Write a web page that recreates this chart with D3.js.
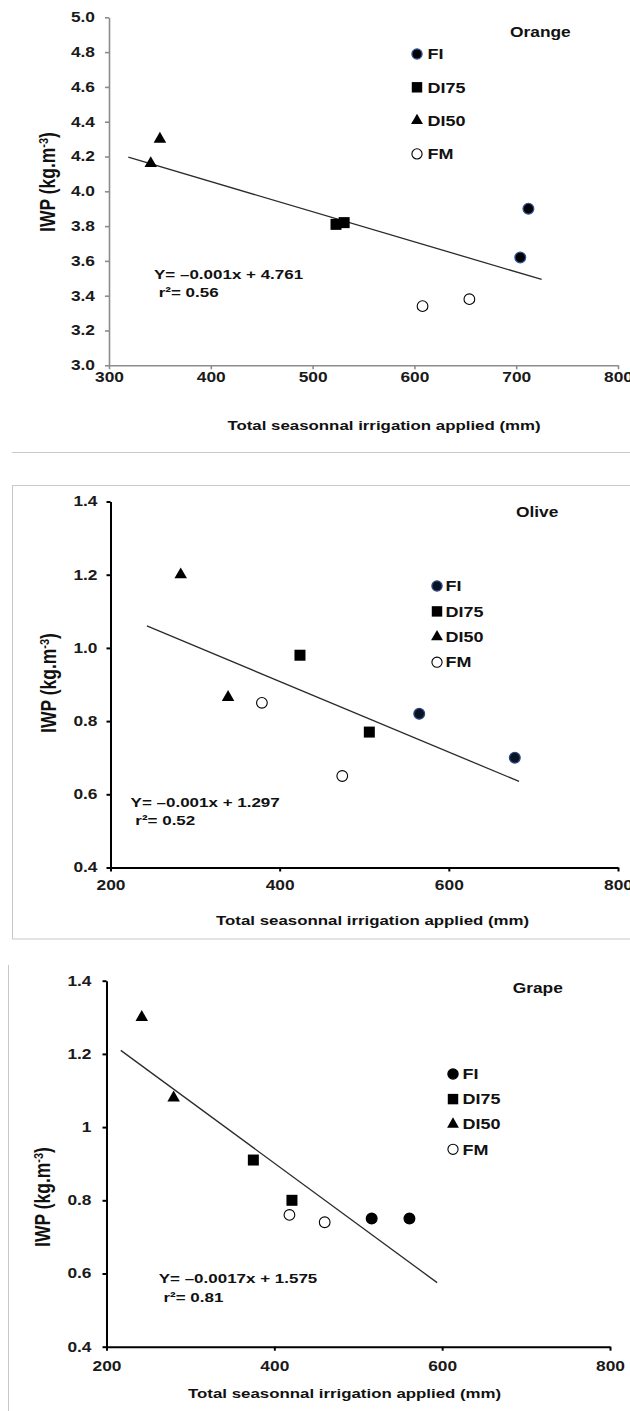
<!DOCTYPE html>
<html>
<head>
<meta charset="utf-8">
<script src="https://cdn.jsdelivr.net/npm/d3@7"></script>
<style>
  html, body { margin: 0; padding: 0; background: #fff; }
  svg { display: block; font-family: "Liberation Sans", Arial, sans-serif; font-weight: bold; }
</style>
</head>
<body>
<svg id="fig" width="630" height="1411"></svg>
<script>
// ---- Data -------------------------------------------------------------
const treatments = ["FI", "DI75", "DI50", "FM"];

// Orange
const orangeTreatment  = ["FI", "FI", "DI75", "DI75", "DI50", "DI50", "FM", "FM"];
const orangeIrrigation = [704, 712, 523, 531, 341, 350, 608, 654];
const orangeIWP        = [3.62, 3.90, 3.81, 3.82, 4.16, 4.30, 3.34, 3.38];
const orangeTrendSpan  = [319, 725];
const orangeXTicks     = [300, 400, 500, 600, 700, 800];
const orangeYTicks     = [3.0, 3.2, 3.4, 3.6, 3.8, 4.0, 4.2, 4.4, 4.6, 4.8, 5.0];
const orangeYLabels    = ["3.0", "3.2", "3.4", "3.6", "3.8", "4.0", "4.2", "4.4", "4.6", "4.8", "5.0"];
const orangeEquation   = ["Y= \u20130.001x + 4.761", " r\u00b2= 0.56"];

// Olive
const oliveTreatment  = ["FI", "FI", "DI75", "DI75", "DI50", "DI50", "FM", "FM"];
const oliveIrrigation = [565, 678, 424, 506, 283, 339, 379, 474];
const oliveIWP        = [0.82, 0.70, 0.98, 0.77, 1.20, 0.865, 0.85, 0.65];
const oliveTrendSpan  = [243, 683];
const oliveXTicks     = [200, 400, 600, 800];
const oliveYTicks     = [0.4, 0.6, 0.8, 1.0, 1.2, 1.4];
const oliveYLabels    = ["0.4", "0.6", "0.8", "1.0", "1.2", "1.4"];
const oliveEquation   = ["Y= \u20130.001x + 1.297", " r\u00b2= 0.52"];

// Grape
const grapeTreatment  = ["FI", "FI", "DI75", "DI75", "DI50", "DI50", "FM", "FM"];
const grapeIrrigation = [516, 561, 375, 421, 242, 280, 418, 460];
const grapeIWP        = [0.75, 0.75, 0.91, 0.80, 1.30, 1.08, 0.76, 0.74];
const grapeTrendSpan  = [217, 594];
const grapeXTicks     = [200, 400, 600, 800];
const grapeYTicks     = [0.4, 0.6, 0.8, 1.0, 1.2, 1.4];
const grapeYLabels    = ["0.4", "0.6", "0.8", "1", "1.2", "1.4"];
const grapeEquation   = ["Y= \u20130.0017x + 1.575", " r\u00b2= 0.81"];

const xTitle = "Total seasonnal irrigation applied (mm)";

// ---- Layout -----------------------------------------------------------
const SX = 1.24; // horizontal stretch of the lettering

const panels = [
  {
    name: "Orange", treat: orangeTreatment, xs: orangeIrrigation, ys: orangeIWP,
    span: orangeTrendSpan, xTicks: orangeXTicks, yTicks: orangeYTicks, yLabels: orangeYLabels,
    eq: orangeEquation,
    xDomain: [300, 800], xRange: [109, 618], yDomain: [3.0, 5.0], yRange: [365.3, 17.3],
    axisColor: "#8c8c8c", axisWidth: 1.6, yPad: 10, xPad: 3,
    fiFill: "#000", fiStroke: "#2c5597",
    legend: { mx: 417, tx: 427.5, y0: 54, dy: 33.3 },
    label: { x: 510, y: 31.7 },
    eqPos: [{ x: 154, y: 279 }, { x: 154, y: 297 }],
    xTitlePos: { x: 384, y: 425 }, yTitlePos: { x: 47, y: 182 }
  },
  {
    name: "Olive", treat: oliveTreatment, xs: oliveIrrigation, ys: oliveIWP,
    span: oliveTrendSpan, xTicks: oliveXTicks, yTicks: oliveYTicks, yLabels: oliveYLabels,
    eq: oliveEquation,
    xDomain: [200, 800], xRange: [110.5, 618], yDomain: [0.4, 1.4], yRange: [867.5, 501.5],
    axisColor: "#000", axisWidth: 2, yPad: 9, xPad: 9,
    fiFill: "#0a1226", fiStroke: "#2a4878",
    legend: { mx: 437, tx: 445.5, y0: 586, dy: 25.4 },
    label: { x: 516, y: 512.3 },
    eqPos: [{ x: 130.6, y: 806.5 }, { x: 130.6, y: 825 }],
    xTitlePos: { x: 372.6, y: 920 }, yTitlePos: { x: 48, y: 683 }
  },
  {
    name: "Grape", treat: grapeTreatment, xs: grapeIrrigation, ys: grapeIWP,
    span: grapeTrendSpan, xTicks: grapeXTicks, yTicks: grapeYTicks, yLabels: grapeYLabels,
    eq: grapeEquation,
    xDomain: [200, 800], xRange: [106.5, 610], yDomain: [0.4, 1.4], yRange: [1346.7, 980.7],
    axisColor: "#000", axisWidth: 2, yPad: 11, xPad: 10,
    fiFill: "#000", fiStroke: "#000",
    legend: { mx: 453, tx: 462.5, y0: 1074, dy: 25.1 },
    label: { x: 512.7, y: 987.7 },
    eqPos: [{ x: 158.7, y: 1283 }, { x: 158.7, y: 1301.7 }],
    xTitlePos: { x: 344.6, y: 1393.3 }, yTitlePos: { x: 42, y: 1197 }
  }
];

const svg = d3.select("#fig");

// Frame lines around the panels
const frame = svg.append("g").attr("fill", "none").attr("stroke", "#c9c9c9").attr("stroke-width", 1);
frame.append("line").attr("x1", 12).attr("x2", 630).attr("y1", 452.5).attr("y2", 452.5);
frame.append("rect").attr("x", 12.5).attr("y", 485.5).attr("width", 640).attr("height", 453.5);
frame.append("line").attr("x1", 8.5).attr("x2", 8.5).attr("y1", 965).attr("y2", 1411);

// Place a text element with horizontal stretch around its anchor point
function stretched(sel) {
  sel.each(function () {
    const t = d3.select(this);
    const x = +t.attr("x") || 0, y = +t.attr("y") || 0;
    t.attr("x", 0).attr("y", 0).attr("transform", `translate(${x},${y}) scale(${SX},1)`);
  });
}

function symbolFor(tr, legend) {
  const k = legend ? 0.95 : 1;
  if (tr === "DI75") return d3.symbol(d3.symbolSquare, 121 * k * k)();
  if (tr === "DI50") return d3.symbol(d3.symbolTriangle, 68 * k * k)();
  return d3.symbol(d3.symbolCircle, 90 * k * k)();
}

function styleMarker(sel, p) {
  sel.attr("fill", d => d === "FM" ? "#fff" : d === "FI" ? p.fiFill : "#000")
     .attr("stroke", d => d === "FI" ? p.fiStroke : "#000")
     .attr("stroke-width", d => d === "FM" ? 1.1 : (d === "FI" ? 1.3 : 0));
}

// Least-squares line through the points
function fit(xs, ys) {
  const mx = d3.mean(xs), my = d3.mean(ys);
  const sxy = d3.sum(xs, (x, i) => (x - mx) * (ys[i] - my));
  const sxx = d3.sum(xs, x => (x - mx) * (x - mx));
  const b = sxy / sxx;
  return { b, a: my - b * mx };
}

panels.forEach(p => {
  const g = svg.append("g");
  const x = d3.scaleLinear().domain(p.xDomain).range(p.xRange);
  const y = d3.scaleLinear().domain(p.yDomain).range(p.yRange);

  // Axes
  const xAxis = g.append("g")
    .attr("transform", `translate(0,${p.yRange[0]})`)
    .call(d3.axisBottom(x).tickValues(p.xTicks).tickFormat(d3.format("d"))
      .tickSize(4).tickSizeOuter(0).tickPadding(p.xPad));
  const yAxis = g.append("g")
    .attr("transform", `translate(${p.xRange[0]},0)`)
    .call(d3.axisLeft(y).tickValues(p.yTicks).tickFormat((d, i) => p.yLabels[i])
      .tickSize(4).tickSizeOuter(0).tickPadding(p.yPad));
  [xAxis, yAxis].forEach(a => {
    a.select(".domain").attr("stroke", p.axisColor).attr("stroke-width", p.axisWidth);
    a.selectAll(".tick line").attr("stroke", p.axisColor).attr("stroke-width", p.axisWidth);
    a.selectAll(".tick text").attr("fill", "#1a1a1a")
      .style("font-family", "'Liberation Sans', Arial, sans-serif")
      .style("font-weight", "bold").style("font-size", "14px");
    a.selectAll(".tick text").call(stretched);
  });

  // Trend line
  const f = fit(p.xs, p.ys);
  g.append("line")
    .attr("x1", x(p.span[0])).attr("y1", y(f.a + f.b * p.span[0]))
    .attr("x2", x(p.span[1])).attr("y2", y(f.a + f.b * p.span[1]))
    .attr("stroke", "#2b2b2b").attr("stroke-width", 1.3);

  // Points
  g.append("g").selectAll("path")
    .data(p.treat)
    .join("path")
    .attr("d", d => symbolFor(d, false))
    .attr("transform", (d, i) => `translate(${x(p.xs[i])},${y(p.ys[i])})`)
    .call(styleMarker, p);

  // Legend
  const lg = g.append("g");
  lg.selectAll("path").data(treatments).join("path")
    .attr("d", d => symbolFor(d, true))
    .attr("transform", (d, i) => `translate(${p.legend.mx},${p.legend.y0 + i * p.legend.dy})`)
    .call(styleMarker, p);
  lg.selectAll("text").data(treatments).join("text")
    .attr("x", p.legend.tx).attr("y", (d, i) => p.legend.y0 + i * p.legend.dy)
    .attr("dy", "0.36em").attr("font-size", 14.5).attr("fill", "#111")
    .text(d => d)
    .call(stretched);

  // Crop name
  g.append("text").attr("x", p.label.x).attr("y", p.label.y).attr("dy", "0.36em")
    .attr("font-size", 14).attr("fill", "#111").text(p.name).call(stretched);

  // Regression equation
  g.selectAll(".eq").data(p.eq).join("text").attr("class", "eq")
    .attr("x", (d, i) => p.eqPos[i].x).attr("y", (d, i) => p.eqPos[i].y)
    .attr("font-size", 13.7).attr("fill", "#111").style("white-space", "pre")
    .text(d => d).call(stretched);

  // Axis titles
  g.append("text").attr("x", p.xTitlePos.x).attr("y", p.xTitlePos.y).attr("dy", "0.36em")
    .attr("text-anchor", "middle").attr("font-size", 13.6).attr("fill", "#111")
    .text(xTitle).call(stretched);

  const yt = g.append("text")
    .attr("transform", `translate(${p.yTitlePos.x},${p.yTitlePos.y}) scale(${SX},1) rotate(-90)`)
    .attr("text-anchor", "middle").attr("dy", "0.36em").attr("font-size", 17.5).attr("fill", "#111");
  yt.append("tspan").text("IWP (kg.m");
  yt.append("tspan").attr("dy", "-0.5em").attr("font-size", 11).text("-3");
  yt.append("tspan").attr("dy", "0.32em").text(")");
});
</script>
</body>
</html>
